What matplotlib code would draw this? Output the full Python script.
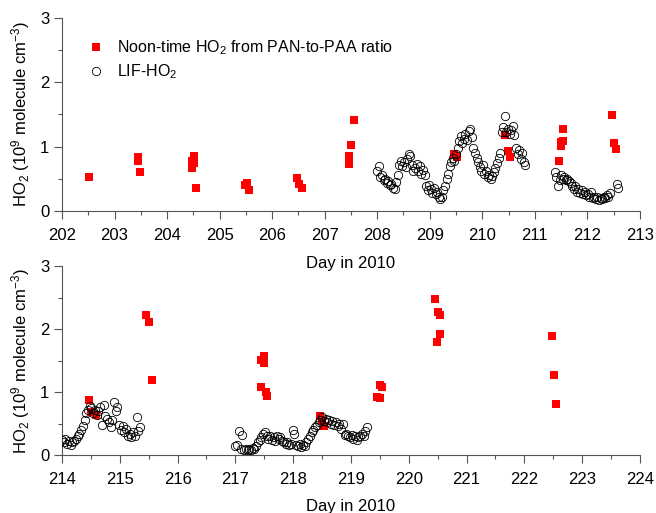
import numpy as np
import matplotlib
matplotlib.use("Agg")
import matplotlib.pyplot as plt
from matplotlib.ticker import MultipleLocator

plt.rcParams['font.family'] = ['Liberation Sans', 'DejaVu Sans']
plt.rcParams['mathtext.fontset'] = 'custom'
plt.rcParams['mathtext.rm'] = 'Liberation Sans'
plt.rcParams['mathtext.it'] = 'Liberation Sans:italic'

# noon-time HO2 from PAN-to-PAA ratio (day, 1e9 molecule cm-3)
pan_day_top = [202.51, 203.44, 203.44, 203.49, 204.51, 204.47, 204.51, 204.47, 204.56,
               205.48, 205.53, 205.56, 206.47, 206.51, 206.56,
               207.47, 207.47, 207.51, 207.55, 209.46, 209.51,
               210.44, 210.49, 210.53, 211.46, 211.49, 211.50, 211.54, 211.54,
               212.47, 212.51, 212.54]
pan_val_top = [0.53, 0.84, 0.78, 0.61, 0.86, 0.78, 0.74, 0.67, 0.36,
               0.40, 0.43, 0.32, 0.51, 0.42, 0.36,
               0.73, 0.85, 1.02, 1.42, 0.88, 0.84,
               1.18, 0.93, 0.83, 0.78, 1.01, 1.07, 1.09, 1.27,
               1.49, 1.06, 0.96]
pan_day_bot = [214.47, 214.51, 214.58, 215.46, 215.51, 215.56,
               217.45, 217.49, 217.49, 217.45, 217.53, 217.54,
               218.46, 218.50, 218.54, 219.45, 219.50, 219.50, 219.54,
               220.46, 220.50, 220.54, 220.54, 220.49,
               222.47, 222.51, 222.55]
pan_val_bot = [0.87, 0.69, 0.63, 2.23, 2.12, 1.20,
               1.51, 1.58, 1.47, 1.08, 1.00, 0.94,
               0.62, 0.55, 0.46, 0.93, 0.90, 1.11, 1.08,
               2.48, 2.28, 2.23, 1.92, 1.79,
               1.89, 1.27, 0.81]

# LIF-HO2, regularly sampled segments: start day + values every lif_step days
lif_step = 0.03
lif_a_start = 208.00
lif_a = [0.62, 0.70, 0.52, 0.55, 0.48, 0.50, 0.44, 0.47, 0.40, 0.42, 0.36, 0.34, 0.45, 0.56,
         0.72, 0.78, 0.70, 0.76, 0.68, 0.80, 0.88, 0.85, 0.72, 0.62, 0.66, 0.73, 0.62, 0.70,
         0.58, 0.64, 0.55, 0.38, 0.32, 0.40, 0.34, 0.28, 0.36, 0.26, 0.30, 0.22, 0.18, 0.22,
         0.32, 0.38, 0.50, 0.58, 0.70, 0.76, 0.82, 0.78, 0.88, 0.98, 1.08, 1.16, 1.05, 1.12,
         1.20, 1.10, 1.24, 1.28, 1.15, 0.98, 0.90, 0.82, 0.76, 0.68, 0.62, 0.72, 0.58, 0.62,
         0.52, 0.56, 0.50, 0.54, 0.60, 0.66, 0.74, 0.82, 0.90, 1.22, 1.30, 1.48, 1.22, 1.28,
         1.20, 1.26, 1.32, 1.18, 0.98, 0.88, 0.94, 0.80, 0.90, 0.76, 0.72]
lif_b_start = 211.38
lif_b = [0.60, 0.52, 0.38, 0.48, 0.55, 0.50, 0.52, 0.48, 0.50, 0.46, 0.44, 0.38, 0.34, 0.38,
         0.30, 0.34, 0.28, 0.32, 0.26, 0.30, 0.24, 0.26, 0.22, 0.30, 0.20, 0.22, 0.18, 0.22,
         0.17, 0.20, 0.18, 0.22, 0.20, 0.24, 0.22, 0.27]
lif_c_start = 214.00
lif_c = [0.24, 0.20, 0.26, 0.18, 0.22, 0.16, 0.20, 0.22, 0.26, 0.30, 0.34, 0.40, 0.46, 0.56,
         0.66, 0.72, 0.78, 0.74, 0.66, 0.72, 0.64, 0.70, 0.76, 0.48, 0.80, 0.62, 0.58, 0.52,
         0.44, 0.56, 0.84, 0.70, 0.76, 0.48, 0.40, 0.46, 0.36, 0.42, 0.30, 0.34, 0.28, 0.36,
         0.30, 0.60, 0.38, 0.44]
lif_d_start = 217.00
lif_d = [0.14, 0.16, 0.38, 0.10, 0.32, 0.08, 0.09, 0.08, 0.10, 0.08, 0.11, 0.10, 0.14, 0.20,
         0.24, 0.28, 0.34, 0.36, 0.30, 0.26, 0.30, 0.24, 0.28, 0.22, 0.30, 0.26, 0.28, 0.22,
         0.20, 0.18, 0.20, 0.16, 0.18, 0.40, 0.34, 0.16, 0.14, 0.18, 0.13, 0.16, 0.14, 0.20,
         0.26, 0.30, 0.36, 0.40, 0.44, 0.48, 0.52, 0.56, 0.60, 0.54, 0.58, 0.52, 0.56, 0.50,
         0.54, 0.48, 0.52, 0.46, 0.50, 0.42, 0.50, 0.32, 0.34, 0.30, 0.28, 0.32, 0.26, 0.30,
         0.24, 0.28, 0.30, 0.34, 0.30, 0.38, 0.44]
# a few isolated LIF points
lif_extra_day = [212.57, 212.58]
lif_extra_val = [0.42, 0.35]


def seg_days(start, vals):
    return start + lif_step * np.arange(len(vals))


lif_day_top = np.concatenate([seg_days(lif_a_start, lif_a), seg_days(lif_b_start, lif_b), lif_extra_day])
lif_val_top = np.concatenate([lif_a, lif_b, lif_extra_val])
lif_day_bot = np.concatenate([seg_days(lif_c_start, lif_c), seg_days(lif_d_start, lif_d)])
lif_val_bot = np.concatenate([lif_c, lif_d])

fig = plt.figure(figsize=(6.56, 5.13), dpi=100)
ax1 = fig.add_axes([0.0945, 0.589, 0.881, 0.376])
ax2 = fig.add_axes([0.0945, 0.113, 0.881, 0.368])
ax2.patch.set_visible(False)

ylab = 'HO$_2$ (10$^9$ molecule cm$^{-3}$)'


def style(ax, x0, x1, xpad):
    ax.set_xlim(x0, x1)
    ax.set_ylim(0, 3)
    ax.spines['top'].set_visible(False)
    ax.spines['right'].set_visible(False)
    ax.spines['left'].set_color('#555555')
    ax.spines['bottom'].set_color('#555555')
    ax.xaxis.set_major_locator(MultipleLocator(1))
    ax.xaxis.set_minor_locator(MultipleLocator(0.5))
    ax.yaxis.set_major_locator(MultipleLocator(1))
    ax.yaxis.set_minor_locator(MultipleLocator(0.5))
    ax.tick_params(which='major', length=5.5, width=0.8, color='#555555', labelsize=12, direction='out')
    ax.tick_params(axis='x', which='major', pad=7)
    ax.tick_params(which='minor', length=3, width=0.8, color='#555555', direction='out')
    ax.set_xlabel('Day in 2010', fontsize=12, labelpad=xpad)
    ax.set_ylabel(ylab, fontsize=12, labelpad=6)


for ax, pd_, pv, ld, lv, lims, xpad in [
        (ax1, pan_day_top, pan_val_top, lif_day_top, lif_val_top, (202, 213), 9),
        (ax2, pan_day_bot, pan_val_bot, lif_day_bot, lif_val_bot, (214, 224), 8.5)]:
    ax.plot(pd_, pv, 's', color='#ff0000', markersize=5.5, markeredgewidth=0,
            label='Noon-time HO$_2$ from PAN-to-PAA ratio', zorder=2)
    ax.plot(ld, lv, 'o', markerfacecolor='none', markeredgecolor='black', markersize=6,
            markeredgewidth=0.6, label='LIF-HO$_2$', zorder=3)
    style(ax, *lims, xpad)

leg = ax1.legend(loc='upper left', bbox_to_anchor=(0.013, 0.97), frameon=False, fontsize=11.5,
                 handletextpad=0.6, labelspacing=0.35, handlelength=1.5)

fig.savefig('out.png', dpi=100)
